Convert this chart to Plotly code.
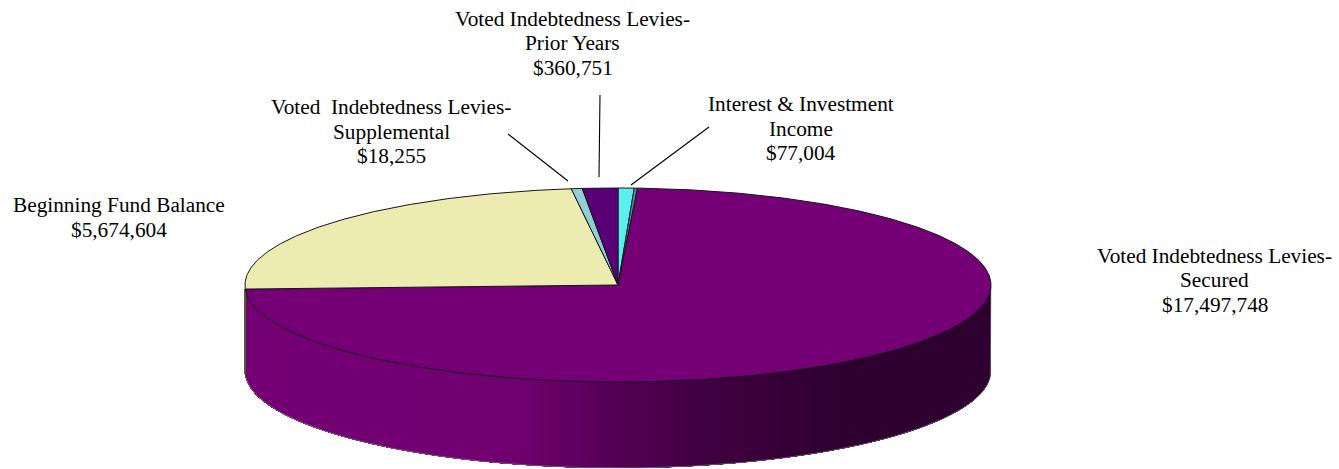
from __future__ import annotations

import numpy as np
import plotly.graph_objects as go


# slices clockwise from 12 o'clock, sweep in degrees
SLICE_NAMES = [
    "Interest & Investment Income",
    "Other",
    "Voted Indebtedness Levies-Secured",
    "Beginning Fund Balance",
    "Voted Indebtedness Levies-Supplemental",
    "Voted Indebtedness Levies-Prior Years",
]
SLICE_SWEEPS = [2.5, 0.5, 264.6, 85.2, 1.7, 5.5]
SLICE_COLORS = ["#5cefef", "#3a9aa0", "#750075", "#ecebb0", "#90d0d0", "#5a0077"]

LABEL_LINES = [
    ["Voted Indebtedness Levies-", "Prior Years", "$360,751"],
    ["Voted\u00a0\u00a0Indebtedness Levies-", "Supplemental", "$18,255"],
    ["Interest &amp; Investment", "Income", "$77,004"],
    ["Beginning Fund Balance", "$5,674,604"],
    ["Voted Indebtedness Levies-", "Secured", "$17,497,748"],
]
LABEL_X = [572.5, 391, 800.5, 119, 1214.5]
LABEL_TOP_Y = [18.5, 107, 104, 205, 255.5]
LINE_STEP = 24.5

LEADER_LINES = [
    (508, 134, 568, 181),
    (600, 95, 599, 177),
    (709, 127, 631, 185),
]

# rim shading of the visible side, left to right
SIDE_STOP_X = [245, 520, 600, 700, 840, 991]
SIDE_STOP_R = [116, 112, 88, 66, 46, 46]
SIDE_STOP_G = [0, 0, 0, 0, 0, 0]
SIDE_STOP_B = [116, 112, 88, 66, 48, 48]

CX, CY, RX, RY = 618.0, 285.0, 373.0, 97.0
DEPTH = 86.0


def rim(deg, drop=0.0):
    rad = np.radians(deg)
    return CX + RX * np.sin(rad), CY - RY * np.cos(rad) + drop


def side_color(x):
    r = np.interp(x, SIDE_STOP_X, SIDE_STOP_R)
    g = np.interp(x, SIDE_STOP_X, SIDE_STOP_G)
    b = np.interp(x, SIDE_STOP_X, SIDE_STOP_B)
    return f"rgb({r:.0f},{g:.0f},{b:.0f})"


fig = go.Figure()

# side wall, strips overlap a little so no seams show
big_end = sum(SLICE_SWEEPS[:3])
edges = np.arange(90.0, big_end + 1.5, 1.5)
for a0, a1 in zip(edges[:-1], edges[1:]):
    sweep = np.linspace(a0, big_end, 100)
    tx, ty = rim(sweep)
    bx, by = rim(sweep[::-1], DEPTH)
    color = side_color(rim((a0 + a1) / 2)[0])
    fig.add_trace(
        go.Scatter(
            x=np.r_[tx, bx],
            y=np.r_[ty, by],
            mode="lines",
            fill="toself",
            fillcolor=color,
            line={"width": 0},
            hoverinfo="skip",
        )
    )

# outer edge of the wall
ox, oy = rim(np.linspace(90.0, big_end, 200), DEPTH)
fig.add_trace(
    go.Scatter(
        x=np.r_[CX + RX, ox],
        y=np.r_[CY, oy],
        mode="lines",
        line={"width": 0.6, "color": "#8a8590"},
        hoverinfo="skip",
    )
)

# cut face of the yellow slice, only a sliver shows on the left
lx, ly = rim(big_end)
fig.add_trace(
    go.Scatter(
        x=[lx - 0.3, lx - 0.3],
        y=[ly, ly + DEPTH - 1],
        mode="lines",
        line={"width": 2, "color": "#55553a"},
        hoverinfo="skip",
    )
)

# top face
start = 0.0
for name, sweep, color in zip(SLICE_NAMES, SLICE_SWEEPS, SLICE_COLORS):
    angles = np.linspace(start, start + sweep, max(int(sweep * 2), 2) + 1)
    rx, ry = rim(angles)
    fig.add_trace(
        go.Scatter(
            x=np.r_[CX, rx, CX],
            y=np.r_[CY, ry, CY],
            mode="lines",
            fill="toself",
            fillcolor=color,
            line={"width": 1, "color": "#15151f"},
            name=name,
            hoverinfo="skip",
        )
    )
    start += sweep

for lines, x, top in zip(LABEL_LINES, LABEL_X, LABEL_TOP_Y):
    for i, text in enumerate(lines):
        fig.add_annotation(
            text=text,
            x=x,
            y=top + i * LINE_STEP,
            xref="x",
            yref="y",
            showarrow=False,
            align="center",
            font={"family": "Liberation Serif", "size": 21.3, "color": "#000000"},
        )

for x0, y0, x1, y1 in LEADER_LINES:
    fig.add_shape(
        type="line",
        x0=x0,
        y0=y0,
        x1=x1,
        y1=y1,
        xref="x",
        yref="y",
        line={"width": 1.1, "color": "#000000"},
    )

fig.update_layout(
    width=1339,
    height=469,
    margin={"l": 0, "r": 0, "t": 0, "b": 0},
    paper_bgcolor="#ffffff",
    plot_bgcolor="#ffffff",
    showlegend=False,
    xaxis={"range": [0, 1339], "visible": False, "fixedrange": True},
    yaxis={"range": [469, 0], "visible": False, "fixedrange": True},
)
fig.write_html(
    "out.html",
    config={"displayModeBar": False},
    post_script="document.body.style.margin = '0';",
)
